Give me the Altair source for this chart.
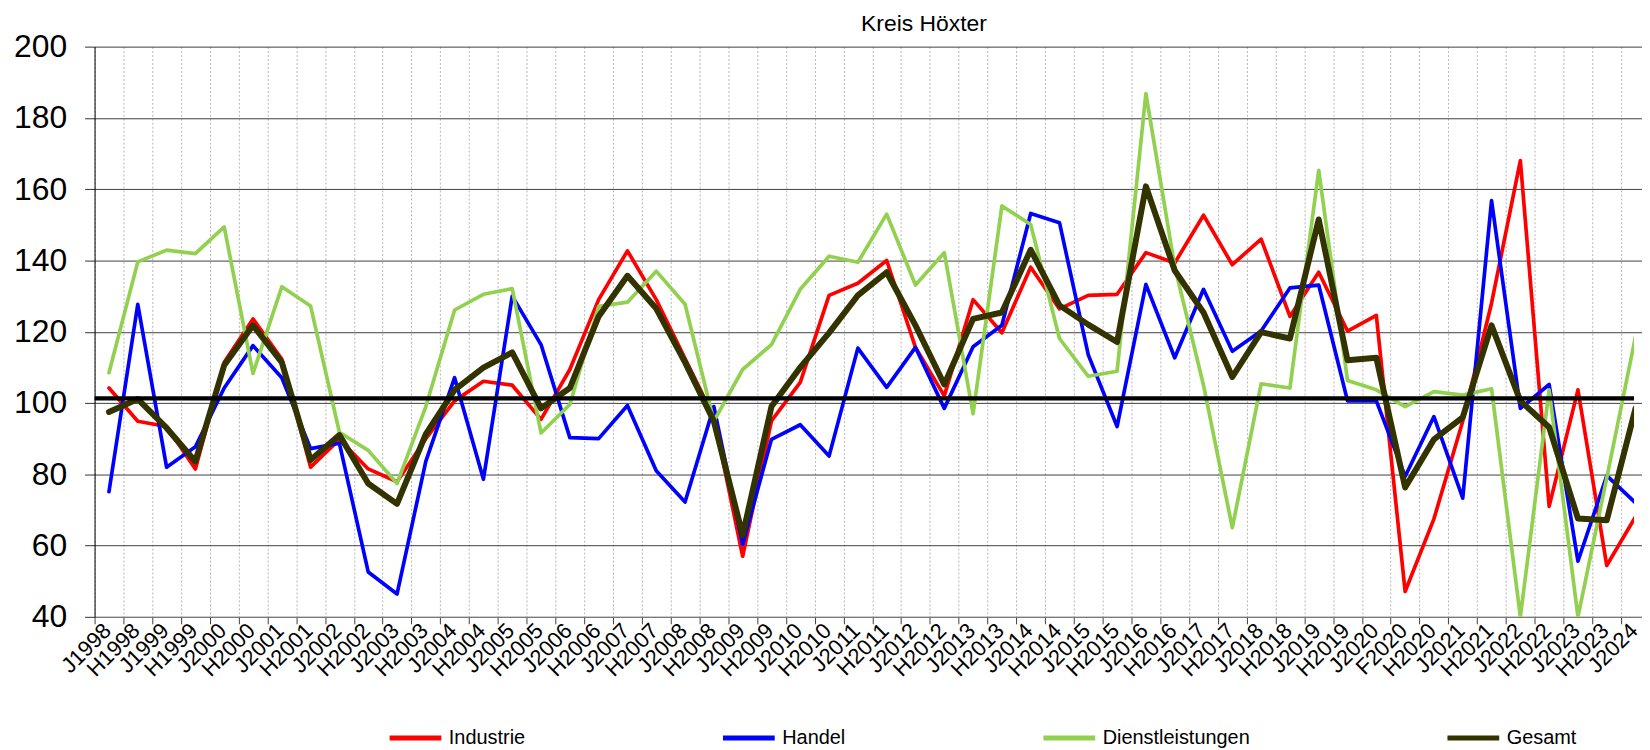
import altair as alt
import pandas as pd

periods = [
    "J1998", "H1998", "J1999", "H1999", "J2000", "H2000", "J2001", "H2001", "J2002", "H2002",
    "J2003", "H2003", "J2004", "H2004", "J2005", "H2005", "J2006", "H2006", "J2007", "H2007",
    "J2008", "H2008", "J2009", "H2009", "J2010", "H2010", "J2011", "H2011", "J2012", "H2012",
    "J2013", "H2013", "J2014", "H2014", "J2015", "H2015", "J2016", "H2016", "J2017", "H2017",
    "J2018", "H2018", "J2019", "H2019", "J2020", "F2020", "H2020", "J2021", "H2021", "J2022",
    "H2022", "J2023", "H2023", "J2024",
]

industrie = [
    104.2, 94.9, 93.4, 81.5, 111.4, 123.6, 112.3, 82.0, 89.8, 81.5,
    77.9, 90.0, 100.6, 106.1, 105.0, 95.4, 109.4, 129.0, 142.7, 129.0,
    112.5, 96.0, 57.0, 95.0, 105.8, 130.2, 133.6, 140.0, 115.6, 102.0,
    129.0, 119.7, 138.1, 126.4, 130.2, 130.5, 142.2, 139.3, 152.7, 138.8,
    146.0, 124.3, 136.7, 120.2, 124.6, 47.1, 67.5, 94.9, 128.0, 168.0,
    71.0, 103.7, 54.4, 68.1,
]

handel = [
    75.1, 127.7, 82.0, 87.7, 104.2, 116.1, 107.1, 87.2, 88.7, 52.6,
    46.4, 83.6, 107.1, 78.6, 130.0, 116.4, 90.3, 90.0, 99.3, 81.0,
    72.2, 99.0, 60.3, 89.8, 93.9, 85.1, 115.4, 104.4, 115.6, 98.5,
    115.8, 121.8, 153.2, 150.6, 113.5, 93.4, 133.3, 112.7, 131.9, 114.5,
    120.2, 132.3, 133.1, 100.6, 100.6, 79.4, 96.2, 73.3, 156.8, 98.5,
    105.2, 55.6, 79.6, 72.0,
]

dienstleistungen = [
    108.5, 139.6, 142.9, 141.9, 149.4, 108.3, 132.6, 127.2, 91.8, 86.7,
    77.4, 99.0, 126.1, 130.5, 132.1, 91.6, 99.6, 127.1, 128.3, 137.0,
    127.7, 94.9, 109.4, 116.4, 131.9, 141.2, 139.5, 153.0, 133.1, 142.2,
    97.0, 155.3, 150.1, 118.1, 107.5, 108.9, 186.8, 138.3, 105.0, 65.0,
    105.4, 104.2, 165.3, 106.3, 103.7, 99.0, 103.2, 102.2, 104.0, 40.0,
    103.7, 40.0, 79.0, 118.7,
]

gesamt = [
    97.5, 101.1, 93.0, 83.6, 110.6, 121.8, 111.4, 84.0, 91.0, 77.4,
    71.7, 91.3, 103.7, 109.9, 114.2, 98.5, 104.2, 124.3, 135.7, 126.5,
    111.4, 94.9, 62.9, 99.0, 110.0, 119.7, 130.2, 136.7, 121.8, 105.2,
    123.6, 125.4, 143.0, 127.4, 122.0, 117.1, 160.8, 137.2, 125.4, 107.3,
    119.9, 118.1, 151.5, 112.0, 112.7, 76.3, 89.8, 96.0, 121.8, 100.6,
    93.2, 67.6, 67.1, 98.5,
]

series_names = ["Industrie", "Handel", "Dienstleistungen", "Gesamt"]
series_colors = ["#FF0000", "#0000FF", "#92D050", "#333300"]
series_widths = [3.7, 3.7, 3.7, 6.0]
reference_value = [101.3]
y_ticks = [40, 60, 80, 100, 120, 140, 160, 180, 200]
chart_title = "Kreis Höxter"

rows = []
for name, vals in zip(series_names, [industrie, handel, dienstleistungen, gesamt]):
    for p, v in zip(periods, vals):
        rows.append({"period": p, "value": v, "series": name})
df = pd.DataFrame(rows)
ref_df = pd.DataFrame({"value": reference_value})

FONT = "Liberation Sans"

x_enc = alt.X(
    "period:N",
    sort=periods,
    bandPosition=0.5,
    title=None,
    scale=alt.Scale(type="band", domain=periods, range=[0, 1563], paddingInner=0, paddingOuter=0),
    axis=alt.Axis(
        tickBand="extent",
        labelAngle=-45,
        labelAlign="right",
        labelBaseline="middle",
        labelFontSize=22,
        labelFont=FONT,
        labelColor="#000000",
        labelPadding=3,
        labelOffset=-2,
        labelOverlap=False,
        tickSize=7,
        tickColor="#404040",
        domainColor="#808080",
        grid=True,
        gridColor="#b5b5b5",
        gridDash=[2, 2],
        gridWidth=1,
    ),
)

y_enc = alt.Y(
    "value:Q",
    title=None,
    scale=alt.Scale(domain=[40, 200], nice=False, zero=False),
    axis=alt.Axis(
        values=y_ticks,
        labelFontSize=32,
        labelFont=FONT,
        labelColor="#000000",
        labelPadding=18,
        tickSize=10,
        tickColor="#303030",
        domainColor="#000000",
        grid=True,
        gridColor="#404040",
        gridWidth=1,
    ),
)

color_enc = alt.Color(
    "series:N",
    scale=alt.Scale(domain=series_names, range=series_colors),
    legend=alt.Legend(title=None),
)

layers = []
for name, w in zip(series_names, series_widths):
    layers.append(
        alt.Chart(df)
        .transform_filter(alt.FieldEqualPredicate(field="series", equal=name))
        .mark_line(strokeWidth=w, strokeJoin="round", strokeCap="round", clip=True)
        .encode(x=x_enc, y=y_enc, color=color_enc)
    )

ref_rule = alt.Chart(ref_df).mark_rule(color="#000000", strokeWidth=4.5).encode(
    y=alt.Y("value:Q")
)

chart = (
    alt.layer(*layers, ref_rule)
    .properties(
        width=1547,
        height=573,
        autosize=alt.AutoSizeParams(type="none"),
        padding={"left": 87, "top": 37, "right": 8, "bottom": 134},
        title=alt.TitleParams(
            chart_title, fontSize=23, fontWeight="normal", font=FONT,
            color="#000000", anchor="middle", dx=60, offset=-5,
        ),
    )
    .configure_view(stroke=None)
    .configure_legend(
        orient="none",
        legendX=294,
        legendY=666,
        direction="horizontal",
        columnPadding=188,
        symbolType="stroke",
        symbolSize=2704,
        symbolStrokeWidth=5,
        labelFontSize=20,
        labelFont=FONT,
        labelColor="#000000",
        labelOffset=5,
        labelLimit=300,
    )
)

chart.save("out.html", embed_options={"renderer": "svg", "actions": False})
